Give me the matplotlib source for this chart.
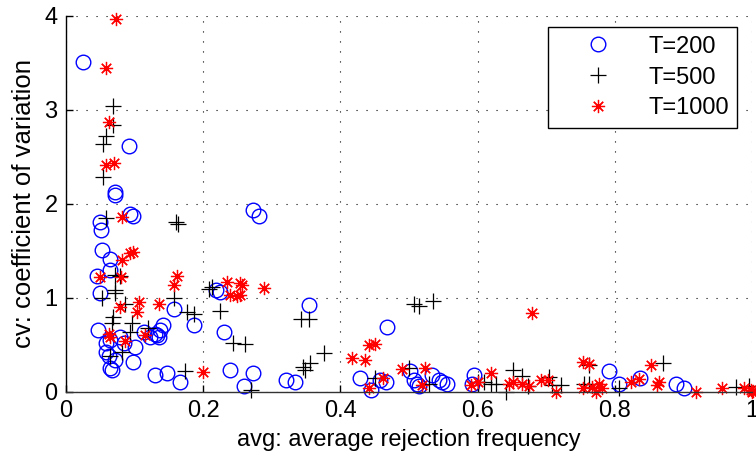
# Scatter of coefficient of variation against average rejection frequency
# for three sample sizes T, drawn in the old MATLAB look

import matplotlib.pyplot as plt

# T=200 (blue circles)
avg_200 = [0.025, 0.092, 0.072, 0.072, 0.093, 0.098, 0.273, 0.282, 0.050, 0.051,
           0.052, 0.064, 0.064, 0.045, 0.049, 0.157, 0.218, 0.224, 0.354, 0.186,
           0.230, 0.130, 0.147, 0.166, 0.239, 0.273, 0.259, 0.320, 0.334, 0.142,
           0.137, 0.132, 0.113, 0.047, 0.064, 0.079, 0.123, 0.130, 0.135, 0.101,
           0.084, 0.059, 0.059, 0.062, 0.072, 0.064, 0.067, 0.098, 0.468, 0.429,
           0.444, 0.458, 0.466, 0.502, 0.507, 0.512, 0.514, 0.534, 0.544, 0.548,
           0.556, 0.595, 0.592, 0.792, 0.806, 0.837, 0.889, 0.901]
cv_200 = [3.51, 2.62, 2.13, 2.10, 1.89, 1.87, 1.94, 1.87, 1.81, 1.72,
          1.51, 1.41, 1.30, 1.23, 1.05, 0.88, 1.09, 1.06, 0.93, 0.71,
          0.64, 0.18, 0.20, 0.11, 0.23, 0.20, 0.06, 0.13, 0.11, 0.71,
          0.66, 0.61, 0.64, 0.66, 0.55, 0.59, 0.59, 0.62, 0.58, 0.48,
          0.52, 0.52, 0.43, 0.38, 0.34, 0.25, 0.23, 0.32, 0.69, 0.15,
          0.02, 0.13, 0.11, 0.22, 0.13, 0.09, 0.06, 0.18, 0.13, 0.11,
          0.09, 0.18, 0.09, 0.22, 0.09, 0.15, 0.09, 0.04]

# T=500 (black plus)
avg_500 = [0.069, 0.069, 0.059, 0.054, 0.054, 0.059, 0.161, 0.163, 0.072, 0.078,
           0.072, 0.052, 0.072, 0.157, 0.208, 0.213, 0.342, 0.354, 0.224, 0.176,
           0.186, 0.244, 0.261, 0.174, 0.269, 0.349, 0.086, 0.069, 0.067, 0.096,
           0.093, 0.120, 0.081, 0.064, 0.346, 0.356, 0.376, 0.507, 0.514, 0.535,
           0.451, 0.500, 0.529, 0.600, 0.610, 0.620, 0.627, 0.651, 0.641, 0.665,
           0.673, 0.704, 0.709, 0.721, 0.755, 0.762, 0.762, 0.806, 0.870, 0.977,
           0.996]
cv_500 = [3.04, 2.84, 2.72, 2.64, 2.29, 1.85, 1.81, 1.79, 1.24, 1.23,
          1.09, 1.00, 1.05, 1.00, 1.10, 1.12, 0.78, 0.78, 0.86, 0.85,
          0.83, 0.52, 0.51, 0.22, 0.02, 0.23, 0.94, 0.80, 0.73, 0.73,
          0.64, 0.68, 0.43, 0.38, 0.27, 0.31, 0.41, 0.94, 0.91, 0.97,
          0.15, 0.25, 0.09, 0.11, 0.11, 0.09, 0.08, 0.23, 0.00, 0.17,
          0.06, 0.16, 0.07, 0.07, 0.09, 0.09, 0.29, 0.04, 0.31, 0.05,
          0.06]

# T=1000 (red asterisks)
avg_1000 = [0.073, 0.059, 0.062, 0.058, 0.070, 0.081, 0.081, 0.094, 0.097, 0.049,
            0.080, 0.162, 0.157, 0.235, 0.254, 0.256, 0.239, 0.254, 0.249, 0.288,
            0.200, 0.078, 0.106, 0.103, 0.135, 0.062, 0.064, 0.115, 0.086, 0.417,
            0.436, 0.441, 0.451, 0.680, 0.441, 0.462, 0.490, 0.523, 0.519, 0.590,
            0.600, 0.620, 0.646, 0.651, 0.665, 0.675, 0.692, 0.702, 0.714, 0.754,
            0.762, 0.753, 0.767, 0.777, 0.782, 0.773, 0.823, 0.836, 0.853, 0.865,
            0.862, 0.918, 0.957, 0.989, 0.998, 1.000, 1.002]
cv_1000 = [3.97, 3.45, 2.87, 2.41, 2.44, 1.86, 1.40, 1.48, 1.49, 1.22,
           1.22, 1.23, 1.14, 1.17, 1.16, 1.14, 1.03, 1.03, 1.02, 1.11,
           0.21, 0.90, 0.96, 0.85, 0.94, 0.62, 0.59, 0.61, 0.54, 0.36,
           0.34, 0.50, 0.51, 0.84, 0.04, 0.15, 0.24, 0.25, 0.07, 0.07,
           0.11, 0.20, 0.09, 0.11, 0.09, 0.06, 0.13, 0.13, 0.00, 0.32,
           0.30, 0.04, 0.05, 0.09, 0.04, 0.00, 0.11, 0.14, 0.29, 0.11,
           0.07, 0.00, 0.04, 0.04, 0.02, 0.00, 0.01]

x_ticks = [0, 0.2, 0.4, 0.6, 0.8, 1]
x_tick_labels = ['0', '0.2', '0.4', '0.6', '0.8', '1']
y_ticks = [0, 1, 2, 3, 4]

plt.rcParams['font.family'] = ['Liberation Sans', 'DejaVu Sans']

fig = plt.figure(figsize=(7.56, 4.61), dpi=100)
ax = fig.add_axes([0.0873, 0.1497, 0.9074, 0.8156])

# draw the three series, red on top like in the original
ax.plot(avg_200, cv_200, 'o', ls='none', mfc='none', mec=(0, 0, 1), ms=10.5, mew=1.0,
        label='T=200', clip_on=False)
ax.plot(avg_500, cv_500, '+', ls='none', color='black', ms=11, mew=0.9,
        label='T=500', clip_on=False)
ax.plot(avg_1000, cv_1000, marker=(8, 2, 0), ls='none', color=(1, 0, 0), ms=9.5, mew=0.9,
        label='T=1000', clip_on=False)

ax.set_xlim(0, 1)
ax.set_ylim(0, 4)
ax.set_xticks(x_ticks)
ax.set_xticklabels(x_tick_labels)
ax.set_yticks(y_ticks)

# dotted MATLAB grid, no box on top / right
ax.grid(True, linestyle=(0, (1, 8)), color='black', linewidth=0.8)
ax.set_axisbelow(True)
ax.spines['top'].set_visible(False)
ax.spines['right'].set_visible(False)
ax.spines['left'].set_linewidth(1.0)
ax.spines['bottom'].set_linewidth(1.0)
ax.spines['bottom'].set_color('#333333')
ax.tick_params(direction='in', length=5, width=1.0, labelsize=17, pad=6)

ax.set_xlabel('avg: average rejection frequency', fontsize=17, labelpad=5)
ax.set_ylabel('cv: coefficient of variation', fontsize=18.5, labelpad=6)

leg = ax.legend(loc='upper right', bbox_to_anchor=(0.978, 0.97), fontsize=17,
                fancybox=False, framealpha=1, edgecolor='black', handlelength=3.6,
                handletextpad=0.3, borderpad=0.35, labelspacing=0.38,
                borderaxespad=0.0)
leg.get_frame().set_linewidth(1.0)

fig.savefig('out.png', dpi=100)
